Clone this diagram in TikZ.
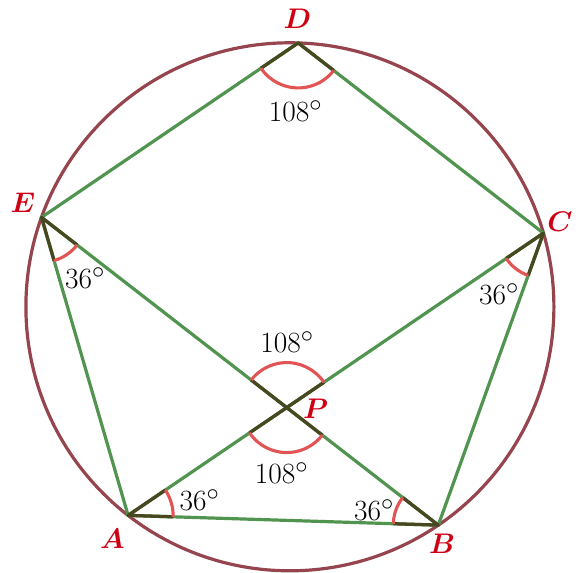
\documentclass[tikz,border=0pt]{standalone}
\usepackage{graphicx}
\usepackage{amsmath,bm}
\usetikzlibrary{calc}
\definecolor{cgreen}{RGB}{80,148,80}
\definecolor{ccirc}{RGB}{150,68,78}
\definecolor{cred}{RGB}{226,84,84}
\definecolor{colive}{RGB}{72,72,32}
\definecolor{clab}{RGB}{208,0,20}
\newcommand\angmark[3]{%
  \draw[angrad] ($(#1)+(#2:45)$) -- (#1) -- ($(#1)+(#3:45)$);
  \draw[angarc] ($(#1)+(#2:45)$) arc[start angle=#2, end angle=#3, radius=45];}
\newcommand\vl[1]{\scalebox{1.14}{$\bm{#1}$}}
\newcommand\al[1]{\scalebox{1.18}{$#1^\circ$}}
\begin{document}
\begin{tikzpicture}[x=1pt,y=1pt,
  edge/.style={cgreen, line width=3.2pt, line cap=round},
  circ/.style={ccirc, line width=3.2pt},
  angrad/.style={colive, line width=3.3pt, line join=round},
  angarc/.style={cred, line width=3.1pt},
  vlab/.style={text=clab, font=\fontsize{24.88}{30}\selectfont, inner sep=0pt},
  alab/.style={font=\fontsize{24.88}{30}\selectfont, inner sep=0pt}]
\useasboundingbox (0,0) rectangle (584,573);
\coordinate (O) at (289.9,266.2);
\draw[circ] (O) circle (264);
\coordinate (D) at ($(O)+(88.2:264)$);
\coordinate (C) at ($(O)+(16.2:264)$);
\coordinate (B) at ($(O)+(-55.8:264)$);
\coordinate (A) at ($(O)+(232.2:264)$);
\coordinate (E) at ($(O)+(160.2:264)$);
\coordinate (P) at (intersection of A--C and E--B);
\draw[edge] (A) -- (B) -- (C) -- (D) -- (E) -- cycle;
\draw[edge] (A) -- (C);
\draw[edge] (E) -- (B);
\angmark{D}{214.2}{322.2}
\angmark{E}{286.2}{322.2}
\angmark{C}{214.2}{250.2}
\angmark{A}{-1.8}{34.2}
\angmark{B}{142.2}{178.2}
\angmark{P}{34.2}{142.2}
\angmark{P}{214.2}{322.2}
\node[vlab] (lD) at (297.5,554) {\vl{D}};
\node[vlab] (lE) at (23,370) {\vl{E}};
\node[vlab] (lC) at (560,351) {\vl{C}};
\node[vlab] (lA) at (112.5,34.5) {\vl{A}};
\node[vlab] (lB) at (442,29) {\vl{B}};
\node[vlab] (lP) at (315.7,164) {\vl{P}};
\node[alab] (aD) at (295.5,462) {\al{108}};
\node[alab] (aE) at (85,295) {\al{36}};
\node[alab] (aC) at (499,279) {\al{36}};
\node[alab] (aA) at (199.5,73) {\al{36}};
\node[alab] (aB) at (374,63) {\al{36}};
\node[alab] (aP1) at (287,231) {\al{108}};
\node[alab] (aP2) at (281.5,100) {\al{108}};
\end{tikzpicture}
\end{document}
